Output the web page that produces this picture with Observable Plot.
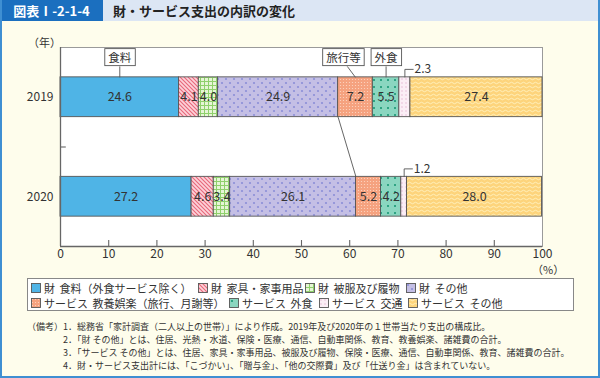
<!DOCTYPE html>
<html><head><meta charset="utf-8">
<script src="https://cdn.jsdelivr.net/npm/d3@7"></script>
<script src="https://cdn.jsdelivr.net/npm/@observablehq/plot@0.6"></script>
<style>
body{margin:0;}
#root{position:relative;width:600px;height:378px;background:#fefdec;font-family:"Noto Sans CJK JP","Noto Sans",sans-serif;overflow:hidden;color:#333;}
#border{position:absolute;left:0;top:0;width:600px;height:378px;box-sizing:border-box;border:2px solid #3f8fd2;border-top:none;pointer-events:none;z-index:5;}
#hdr{position:absolute;left:0;top:0;width:600px;height:21px;background:#dce6f4;}
#badge{position:absolute;left:0;top:0;width:103px;height:21px;background:#1b6fbf;color:#fff;font-size:13px;font-weight:bold;line-height:21px;text-align:center;}
#title{position:absolute;left:113px;top:0;height:21px;line-height:21px;font-size:13px;font-weight:bold;color:#222;}
#plot{position:absolute;left:0;top:21px;}
#nen{position:absolute;left:28px;top:34px;font-size:11px;}
#pct{position:absolute;left:532px;top:261px;font-size:11px;}
#legend{position:absolute;left:27px;top:278px;width:547px;height:33px;box-sizing:border-box;background:#fff;border:1px solid #888;}
.li{position:absolute;font-size:11px;line-height:12px;white-space:nowrap;word-spacing:2px;}
.li svg{position:absolute;left:0;top:1px;}
.li span{position:absolute;left:13px;top:0;}
#notes{position:absolute;left:27px;top:320px;font-size:9px;line-height:13px;color:#333;}
#notes .lab{position:absolute;left:0;top:0;white-space:nowrap;}
#notes .lines{position:absolute;left:36px;top:0;white-space:nowrap;}
</style></head>
<body>
<svg width="0" height="0" style="position:absolute">
<defs>
<pattern id="pFurn" width="4" height="4" patternUnits="userSpaceOnUse"><rect width="4" height="4" fill="#fcd3da"/><path d="M-1,-1L5,5M-1,3L1,5M3,-1L5,1" stroke="#e8677a" stroke-width="1.1"/></pattern>
<pattern id="pCloth" width="4" height="4" patternUnits="userSpaceOnUse"><rect width="4" height="4" fill="#e6f5d6"/><path d="M0,0.5H4M0.5,0V4" stroke="#8fd06c" stroke-width="1"/></pattern>
<pattern id="pOther" width="8" height="8" patternUnits="userSpaceOnUse"><rect width="8" height="8" fill="#c4bfe5"/><circle cx="2" cy="2" r="1.1" fill="#8c8fd8"/><circle cx="6" cy="6" r="1.1" fill="#8c8fd8"/></pattern>
<pattern id="pEdu" width="3" height="3" patternUnits="userSpaceOnUse"><rect width="3" height="3" fill="#f5a27f"/><circle cx="1.5" cy="1.5" r="0.6" fill="#fcd8c6"/></pattern>
<pattern id="pEat" width="7" height="7" patternUnits="userSpaceOnUse"><rect width="7" height="7" fill="#8ad6c0"/><rect x="2" y="2" width="2" height="2" fill="#2fa383"/></pattern>
<pattern id="pTrans" width="4" height="4" patternUnits="userSpaceOnUse"><rect width="4" height="4" fill="#fbeef6"/><circle cx="2" cy="2" r="0.7" fill="#e3b1cf"/></pattern>
<pattern id="pSvc" width="6" height="4" patternUnits="userSpaceOnUse"><rect width="6" height="4" fill="#fdd47c"/><path d="M0,2Q1.5,0.5 3,2T6,2" stroke="#fff0c0" stroke-width="0.9" fill="none"/></pattern>
</defs>
</svg>
<div id="root">
  <div id="hdr"></div>
  <div id="badge">図表Ⅰ-2-1-4</div>
  <div id="title">財・サービス支出の内訳の変化</div>
  <div id="nen">（年）</div>
  <div id="plot"></div>
  <div id="pct">（%）</div>
  <div id="legend"></div>
  <div id="notes"></div>
  <div id="border"></div>
</div>
<script>
// ---- data ----
const years = ["2019", "2020"];
const categories = [
  "財 食料（外食サービス除く）",
  "財 家具・家事用品",
  "財 被服及び履物",
  "財 その他",
  "サービス 教養娯楽（旅行、月謝等）",
  "サービス 外食",
  "サービス 交通",
  "サービス その他"
];
const values2019 = [24.6, 4.1, 4.0, 24.9, 7.2, 5.5, 2.3, 27.4];
const values2020 = [27.2, 4.6, 3.4, 26.1, 5.2, 4.2, 1.2, 28.0];
const xTicks = [0, 10, 20, 30, 40, 50, 60, 70, 80, 90, 100];
const calloutLabels = ["食料", "旅行等", "外食"];
const calloutCategories = [0, 4, 5];
const outsideCategory = 6; // 交通: label outside with leader
const goodsCount = 4;      // first 4 categories are 財
const notes = [
  "1．総務省「家計調査（二人以上の世帯）」により作成。2019年及び2020年の１世帯当たり支出の構成比。",
  "2．「財 その他」とは、住居、光熱・水道、保険・医療、通信、自動車関係、教育、教養娯楽、諸雑費の合計。",
  "3．「サービス その他」とは、住居、家具・家事用品、被服及び履物、保険・医療、通信、自動車関係、教育、諸雑費の合計。",
  "4．財・サービス支出計には、「こづかい」、「贈与金」、「他の交際費」及び「仕送り金」は含まれていない。"
];

// ---- styles ----
const fills = ["#4fb4e6", "url(#pFurn)", "url(#pCloth)", "url(#pOther)", "url(#pEdu)", "url(#pEat)", "url(#pTrans)", "url(#pSvc)"];
const legendPos = [[3, 3], [170, 3], [277, 3], [378, 3], [3, 18], [201, 18], [291, 18], [380, 18]];
const calloutShift = [0, -2.5, 0];   // label offset from segment centre (x units)
const calloutLeader = [0, -1.7, 0];  // leader top offset

// ---- build segments ----
const series = [values2019, values2020];
const segs = [];
series.forEach((vals, r) => {
  let c = 0;
  vals.forEach((v, k) => {
    segs.push({row: r, k, v, x1: c, x2: c + v, mid: c + v / 2});
    c += v;
  });
});
const H = 0.2; // half bar thickness (y units)
const seg = (r, k) => segs.find(d => d.row === r && d.k === k);
const goodsEnd = r => d3.sum(series[r].slice(0, goodsCount));

const outside = segs.filter(d => d.k === outsideCategory);
const calloutData = calloutLabels.map((label, i) => {
  const s = seg(0, calloutCategories[i]);
  return {label, x: s.mid + calloutShift[i], xl: s.mid + calloutLeader[i], mid: s.mid, row: 0};
});

const chart = Plot.plot({
  width: 600,
  height: 255,
  marginLeft: 60,
  marginRight: 58,
  marginTop: 26,
  marginBottom: 30,
  style: {fontFamily: '"Noto Sans CJK JP","Noto Sans",sans-serif', fontSize: "12px", background: "transparent", overflow: "visible", color: "#333"},
  x: {domain: [0, 100]},
  y: {domain: [-0.5, 1.5], reverse: true},
  color: {type: "identity"},
  marks: [
    Plot.frame({fill: "#fff", stroke: "#9a9a9a"}),
    // connector between 財 totals
    Plot.link([0], {x1: () => goodsEnd(0), y1: () => 0 + H, x2: () => goodsEnd(1), y2: () => 1 - H, stroke: "#555", strokeWidth: 0.9}),
    Plot.rect(segs, {x1: "x1", x2: "x2", y1: d => d.row - H, y2: d => d.row + H, fill: d => fills[d.k], stroke: "#555", strokeWidth: 0.9}),
    Plot.text(segs.filter(d => d.k !== outsideCategory), {x: "mid", y: "row", text: d => d.v.toFixed(1), fill: "#333", fontSize: 12.5}),
    // outside labels with elbow leaders
    Plot.link(outside, {x1: "mid", x2: "mid", y1: d => d.row - H, y2: d => d.row - 0.28, stroke: "#555", strokeWidth: 0.9}),
    Plot.link(outside, {x1: "mid", x2: d => d.mid + 1.8, y1: d => d.row - 0.28, y2: d => d.row - 0.28, stroke: "#555", strokeWidth: 0.9}),
    Plot.text(outside, {x: d => d.mid + 2.0, y: d => d.row - 0.28, text: d => d.v.toFixed(1), textAnchor: "start", fill: "#333", fontSize: 12}),
    // callouts
    Plot.link(calloutData, {x1: "xl", x2: "mid", y1: d => d.row - 0.31, y2: d => d.row - H, stroke: "#555", strokeWidth: 0.9}),
    Plot.text(calloutData, {x: "x", y: d => d.row - 0.39, text: "label", fill: "#333", fontSize: 11.5}),
    // axes
    Plot.ruleX([0], {stroke: "#666", strokeWidth: 1.3}),
    Plot.ruleY([1.5], {stroke: "#666", strokeWidth: 1.3}),
    Plot.ruleX(xTicks.filter(t => t > 0 && t < 100), {y1: 1.5, y2: 1.5 - 0.06, stroke: "#666", strokeWidth: 1.1}),
    Plot.ruleY([0.5], {x1: 0, x2: 1.2, stroke: "#666", strokeWidth: 1.1}),
    Plot.axisX(xTicks, {tickSize: 0, tickPadding: 3, fontSize: 12, fill: "#333", label: null}),
    Plot.axisY([0, 1], {tickSize: 0, tickPadding: 7, tickFormat: i => years[i], fontSize: 12, fill: "#333", label: null})
  ]
});
document.getElementById("plot").appendChild(chart);

// boxes behind callout labels
Array.from(chart.querySelectorAll("text"))
  .filter(t => calloutLabels.includes(t.textContent))
  .forEach(t => {
    const b = t.getBBox();
    const r = document.createElementNS("http://www.w3.org/2000/svg", "rect");
    r.setAttribute("x", b.x - 3.5);
    r.setAttribute("y", b.y - 0.5);
    r.setAttribute("width", b.width + 7);
    r.setAttribute("height", b.height + 1);
    r.setAttribute("fill", "#fff");
    r.setAttribute("stroke", "#555");
    r.setAttribute("stroke-width", "0.9");
    const tr = t.getAttribute("transform");
    if (tr) r.setAttribute("transform", tr);
    t.parentNode.insertBefore(r, t);
  });

// legend
const legend = document.getElementById("legend");
categories.forEach((c, k) => {
  const d = document.createElement("div");
  d.className = "li";
  d.style.left = legendPos[k][0] + "px";
  d.style.top = legendPos[k][1] + "px";
  d.innerHTML = `<svg width="10" height="10"><rect x="0.5" y="0.5" width="9" height="9" fill="${fills[k]}" stroke="#555" stroke-width="0.9"/></svg><span>${c}</span>`;
  legend.appendChild(d);
});

// notes
const nb = document.getElementById("notes");
nb.innerHTML = `<div class="lab">（備考）</div><div class="lines">${notes.map(n => `<div>${n}</div>`).join("")}</div>`;
</script>
</body></html>
